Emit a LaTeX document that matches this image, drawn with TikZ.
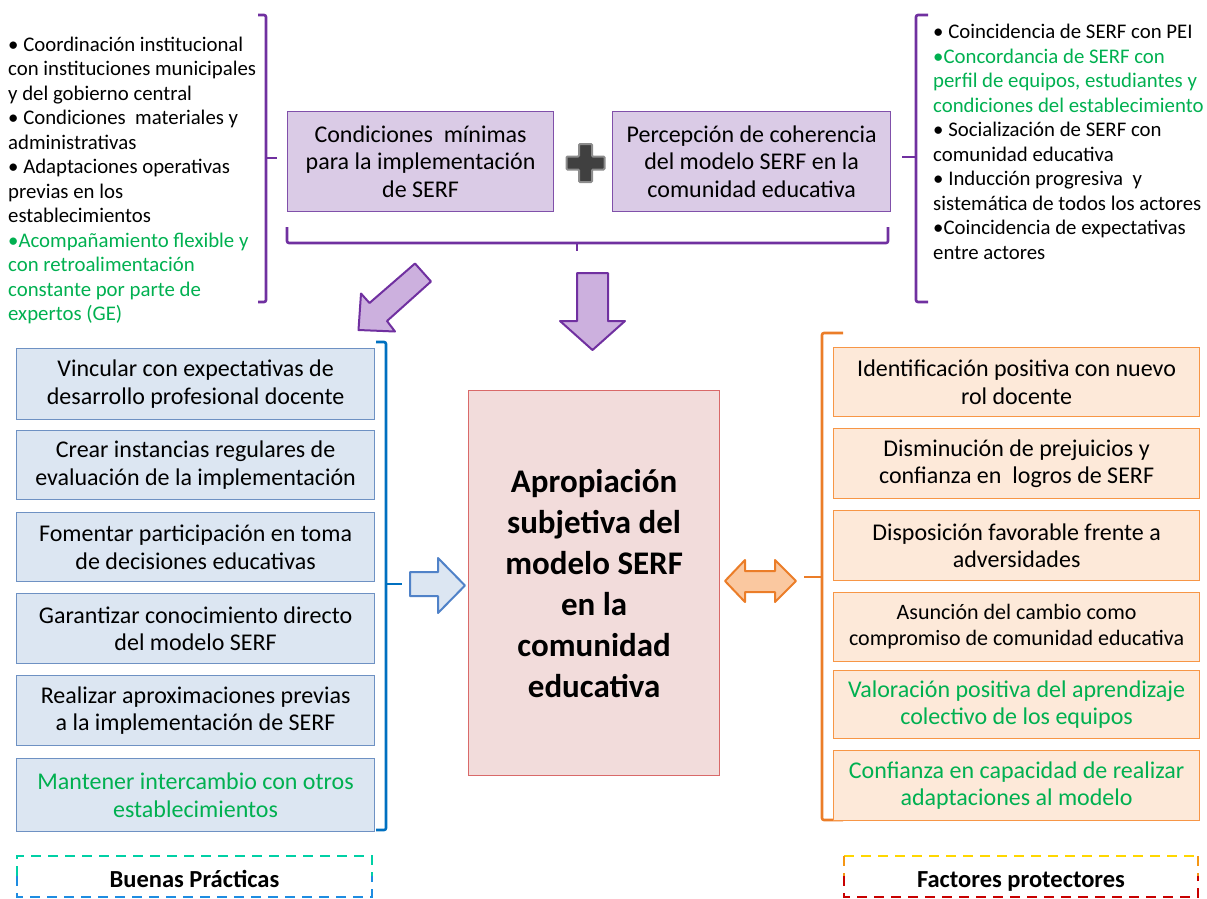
\documentclass[tikz,border=0pt]{standalone}
\usepackage{fontspec}
\setmainfont{Carlito}
\definecolor{tgreen}{RGB}{0,176,80}
\definecolor{pline}{RGB}{112,48,160}
\definecolor{pborder}{RGB}{128,80,170}
\definecolor{pfill}{RGB}{218,203,230}
\definecolor{parrow}{RGB}{204,176,222}
\definecolor{bline}{RGB}{0,112,192}
\definecolor{bborder}{RGB}{110,145,195}
\definecolor{bfill}{RGB}{220,230,242}
\definecolor{barrow}{RGB}{80,130,200}
\definecolor{oline}{RGB}{235,125,40}
\definecolor{oborder}{RGB}{247,150,70}
\definecolor{ofill}{RGB}{253,233,217}
\definecolor{oarrow}{RGB}{250,200,160}
\definecolor{cborder}{RGB}{217,105,105}
\definecolor{cfill}{RGB}{242,220,219}
\definecolor{plusfill}{RGB}{64,64,64}
\definecolor{plusline}{RGB}{140,140,140}
\definecolor{dteal}{RGB}{0,208,165}
\definecolor{dblue}{RGB}{30,140,225}
\definecolor{dyellow}{RGB}{255,215,0}
\definecolor{dorange}{RGB}{245,150,20}
\definecolor{dred}{RGB}{200,0,0}
\newcommand\mytopfont{\fontsize{20.8}{24.5}\selectfont}
\newcommand\myboxfont{\fontsize{24}{27.5}\selectfont}
\newcommand\mysmallfont{\fontsize{22}{26}\selectfont}
\newcommand\mycenterfont{\fontsize{33}{41}\selectfont\bfseries}
\newcommand\mylabelfont{\fontsize{24.5}{26}\selectfont\bfseries}
\begin{document}
\begin{tikzpicture}[x=1pt,y=-1pt,
  txt/.style={anchor=north west, align=left, inner sep=0pt, font=\mytopfont},
  pbox/.style={draw=pborder, fill=pfill, line width=1.2pt, anchor=north west, align=center, font=\myboxfont, inner sep=0pt, minimum height=100pt},
  lbox/.style={draw=bborder, fill=bfill, line width=1.2pt, minimum width=358pt, anchor=north west, align=center, font=\myboxfont, inner sep=0pt},
  rbox/.style={draw=oborder, fill=ofill, line width=1.2pt, minimum width=366pt, anchor=north west, align=center, font=\myboxfont, inner sep=0pt},
  brk/.style={line width=2.6pt, rounded corners=2pt},
  blockarrow/.style={line width=2pt, line join=round},
  dashbox/.style={line width=2.6pt, dash pattern=on 10pt off 7pt}
]
\useasboundingbox (0,0) rectangle (1207,898);

% top-left text
\node[txt] (tl) at (8,36.5) {• Coordinación institucional\\
con instituciones municipales\\
y del gobierno central\\
• Condiciones\ \ materiales y\\
administrativas\\
• Adaptaciones operativas\\
previas en los\\
establecimientos\\
\textcolor{tgreen}{•Acompañamiento flexible y}\\
\textcolor{tgreen}{con retroalimentación}\\
\textcolor{tgreen}{constante por parte de}\\
\textcolor{tgreen}{expertos (GE)}};

% top-right text
\node[txt] (tr) at (933,24) {• Coincidencia de SERF con PEI\\
\textcolor{tgreen}{•Concordancia de SERF con}\\
\textcolor{tgreen}{perfil de equipos, estudiantes y}\\
\textcolor{tgreen}{condiciones del establecimiento}\\
• Socialización de SERF con\\
comunidad educativa\\
• Inducción progresiva\ \ y\\
sistemática de todos los actores\\
•Coincidencia de expectativas\\
entre actores};

% purple brackets
\draw[brk, pline] (258,15) -- (266,15) -- (266,302) -- (258,302);
\draw[brk, pline] (266,158) -- (277,158);
\draw[brk, pline] (928,15) -- (916,15) -- (916,302) -- (928,302);
\draw[brk, pline] (916,157) -- (902,157);
\draw[brk, pline] (287,227) -- (287,243) -- (888,243) -- (888,227);
\draw[brk, pline] (577,243) -- (577,251);

% top boxes
\node[pbox, minimum width=266pt] (c1) at (287,111) {Condiciones\ \ mínimas\\para la implementación\\de SERF};
\node[pbox, minimum width=278pt] (c2) at (612,111) {Percepción de coherencia\\del modelo SERF en la\\comunidad educativa};

% plus sign
\coordinate (plus) at (585.5,163);
\draw[fill=plusfill, draw=plusline, line width=2pt, rounded corners=1pt, shift={(plus)}]
 (-6.5,-19) -- (6.5,-19) -- (6.5,-6.5) -- (19,-6.5) -- (19,6.5) -- (6.5,6.5) -- (6.5,19) -- (-6.5,19) -- (-6.5,6.5) -- (-19,6.5) -- (-19,-6.5) -- (-6.5,-6.5) -- cycle;

% purple arrows
\draw[blockarrow, draw=pline, fill=parrow] (415,263.5) -- (431,281.5) -- (387,321) -- (395,331.5) -- (358.5,330) -- (361,293.5) -- (369.5,303) -- cycle;
\draw[blockarrow, draw=pline, fill=parrow] (577,273) -- (608,273) -- (608,321) -- (625,321) -- (592.5,350) -- (560,321) -- (577,321) -- cycle;

% left boxes
\node[lbox, minimum height=71pt] (l1) at (16,348) {Vincular con expectativas de\\desarrollo profesional docente};
\node[lbox, minimum height=69pt] (l2) at (16,430) {Crear instancias regulares de\\evaluación de la implementación};
\node[lbox, minimum height=69pt] (l3) at (16,512) {Fomentar participación en toma\\de decisiones educativas};
\node[lbox, minimum height=70pt] (l4) at (16,593) {Garantizar conocimiento directo\\del modelo SERF};
\node[lbox, minimum height=70pt] (l5) at (16,675) {Realizar aproximaciones previas\\a la implementación de SERF};
\node[lbox, minimum height=73pt, text=tgreen] (l6) at (16,758) {Mantener intercambio con otros\\establecimientos};

% blue bracket and arrow
\draw[brk, bline] (376,342) -- (386,342) -- (386,830) -- (376,830);
\draw[brk, bline] (386,584) -- (402,584);
\draw[blockarrow, draw=barrow, fill=bfill] (410,572) -- (438,572) -- (438,558) -- (465,585.5) -- (438,613) -- (438,596) -- (410,596) -- cycle;

% center box
\node[draw=cborder, fill=cfill, line width=1.2pt, anchor=north west, minimum width=251pt, minimum height=385pt, align=center, font=\mycenterfont, inner sep=0pt] (ctr) at (468,390)
 {Apropiación\\subjetiva del\\modelo SERF\\en la\\comunidad\\educativa};

% orange double arrow and bracket
\draw[blockarrow, draw=oline, fill=oarrow] (725,581) -- (745,560) -- (745,571) -- (775,571) -- (775,560) -- (796,581) -- (775,602) -- (775,592) -- (745,592) -- (745,602) -- cycle;
\draw[brk, oline] (843,333) -- (822,333) -- (822,820) -- (843,820);
\draw[brk, oline] (822,577) -- (804,577);

% right boxes
\node[rbox, minimum height=69pt] (r1) at (833,347) {Identificación positiva con nuevo\\rol docente};
\node[rbox, minimum height=70pt] (r2) at (833,428) {Disminución de prejuicios y\\confianza en\ \ logros de SERF};
\node[rbox, minimum height=70pt] (r3) at (833,510) {Disposición favorable frente a\\adversidades};
\node[rbox, minimum height=69pt, font=\mysmallfont] (r4) at (833,592) {Asunción del cambio como\\compromiso de comunidad educativa};
\node[rbox, minimum height=68pt, text=tgreen] (r5) at (833,670) {Valoración positiva del aprendizaje\\colectivo de los equipos};
\node[rbox, minimum height=70pt, text=tgreen] (r6) at (833,750) {Confianza en capacidad de realizar\\adaptaciones al modelo};

% bottom labels
\draw[dashbox, dteal] (17,876) -- (17,856) -- (372,856) -- (372,876);
\draw[dashbox, dblue] (17,876) -- (17,897) -- (372,897) -- (372,876);
\node[font=\mylabelfont, inner sep=0pt, anchor=base] (bp) at (194.5,887) {Buenas Prácticas};
\draw[dashbox, dyellow] (844,856) -- (1198,856);
\draw[dashbox, dorange] (844,856) -- (844,876);
\draw[dashbox, dorange] (1198,856) -- (1198,876);
\draw[dashbox, dred] (844,876) -- (844,897) -- (1198,897) -- (1198,876);
\node[font=\mylabelfont, inner sep=0pt, anchor=base] (fp) at (1021,887) {Factores protectores};
\end{tikzpicture}
\end{document}
